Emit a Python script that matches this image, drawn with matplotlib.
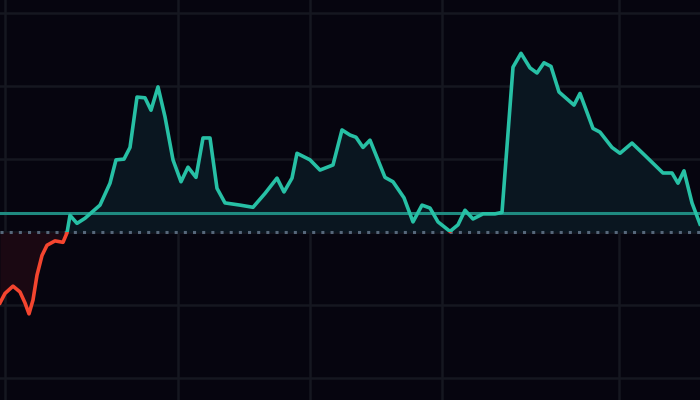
import matplotlib.pyplot as plt
import numpy as np
from matplotlib.patches import Rectangle

# time axis (chart position) and indicator values
t = [0, 5, 13, 20, 25, 29, 33, 37, 42, 47, 55, 63, 67, 70, 77, 85, 100, 110, 116,
     124, 130, 137, 145, 151, 158, 165, 173, 181, 188, 196, 203, 210, 217, 225,
     240, 253, 265, 277, 284, 292, 297, 310, 320, 333, 342, 350, 356, 363, 370,
     385, 393, 404, 413, 422, 430, 438, 450, 458, 465, 473, 483, 495, 502, 513,
     521, 530, 537, 544, 551, 559, 574, 580, 593, 600, 612, 620, 632, 645, 663,
     672, 678, 684, 692, 700]
vals = [-9.7, -8.4, -7.4, -8.2, -9.7, -11.2, -9.3, -5.9, -3.2, -1.8, -1.2, -1.4,
        -0.1, 2.3, 1.2, 1.9, 3.7, 6.7, 9.9, 10.0, 11.6, 18.5, 18.4, 16.7, 19.9,
        15.8, 9.9, 6.9, 8.9, 7.5, 12.9, 12.9, 6.0, 4.0, 3.7, 3.4, 5.3, 7.4, 5.5,
        7.4, 10.8, 9.9, 8.5, 9.2, 14.0, 13.3, 13.0, 11.6, 12.6, 7.5, 6.9, 4.7,
        1.4, 3.7, 3.3, 1.4, 0.1, 1.0, 3.0, 1.8, 2.5, 2.5, 2.7, 22.6, 24.5, 22.5,
        21.8, 23.2, 22.7, 19.2, 17.4, 19.0, 14.2, 13.7, 11.6, 10.8, 12.2, 10.5,
        8.1, 8.1, 6.7, 8.4, 4.0, 1.1]
baseline = 0.0
signal = 2.6
hgrid = [-20, -10, 0, 10, 20, 30]
vgrid = [5, 178, 310, 442, 619]

bg = '#06050f'
teal = '#27c0a5'
red = '#f4452f'

x = np.array(t, dtype=float)
y = np.array(vals)

fig = plt.figure(figsize=(7, 4), dpi=100, facecolor=bg)
ax = fig.add_axes([0, 0, 1, 1], facecolor=bg)
ax.set_xlim(0, 700)
ax.set_ylim(-23.0, 31.8)
ax.axis('off')

for g in hgrid:
    ax.axhline(g, color='#151720', lw=1.8, zorder=1)
for g in vgrid:
    ax.axvline(g, color='#151720', lw=1.8, zorder=1)

ax.fill_between(x, y, baseline, where=y >= baseline, interpolate=True,
                color='#0a1620', lw=0, zorder=2)
ax.fill_between(x, y, baseline, where=y <= baseline, interpolate=True,
                color='#1a0812', lw=0, zorder=2)

ax.axhline(signal, color='#1f8a80', lw=2.2, zorder=3)
ax.axhline(baseline, color='#56677a', lw=2.2, ls=(0, (1, 2)), zorder=3)

up, = ax.plot(x, y, color=teal, lw=2.6, solid_joinstyle='round', zorder=4)
dn, = ax.plot(x, y, color=red, lw=2.6, solid_joinstyle='round', zorder=4)
up.set_clip_path(Rectangle((0, baseline), 700, 40, transform=ax.transData))
dn.set_clip_path(Rectangle((0, -40), 700, 40 + baseline, transform=ax.transData))

fig.savefig('out.png', dpi=100, facecolor=bg)
